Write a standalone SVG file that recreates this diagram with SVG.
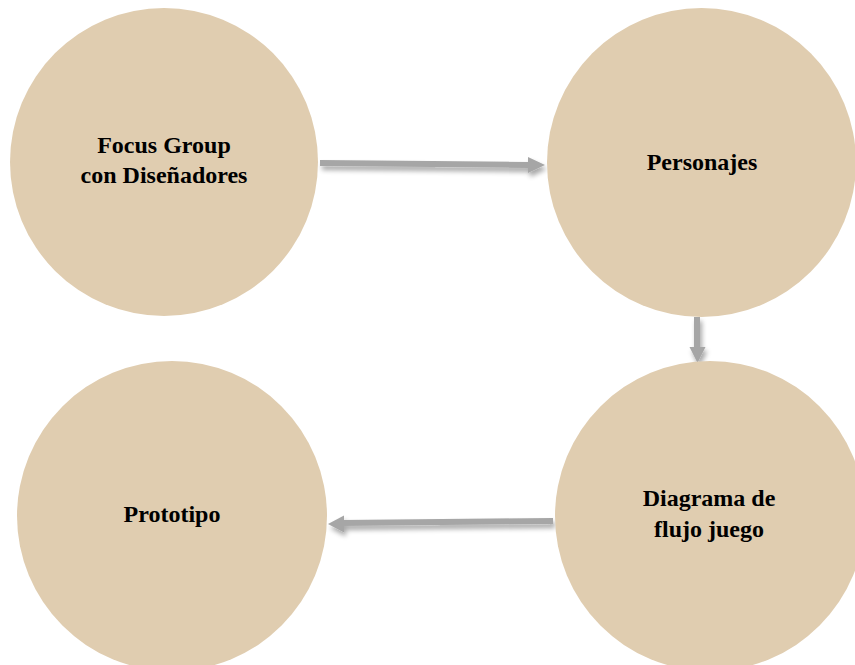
<svg xmlns="http://www.w3.org/2000/svg" width="855" height="665" viewBox="0 0 855 665">
  <defs>
    <style>
      .node circle { fill: #e0cdb0; }
      .label { font-family: "Liberation Serif", "Times New Roman", serif; font-weight: bold; font-size: 24px; fill: #000; text-anchor: middle; }
      .shaft { stroke: #a6a6a6; stroke-width: 6; fill: none; }
      .head { fill: #a6a6a6; }
    </style>
    <filter id="shadow" x="-10%" y="-50%" width="120%" height="200%">
      <feGaussianBlur in="SourceAlpha" stdDeviation="2.5"/>
      <feOffset dx="2" dy="4" result="off"/>
      <feComponentTransfer><feFuncA type="linear" slope="0.35"/></feComponentTransfer>
      <feMerge><feMergeNode/><feMergeNode in="SourceGraphic"/></feMerge>
    </filter>
  </defs>
  <rect width="855" height="665" fill="#ffffff"/>

  <g id="connectors" filter="url(#shadow)">
    <!-- Focus Group -> Personajes -->
    <g id="edge-focus-personajes">
      <line class="shaft" x1="320" y1="163" x2="530" y2="165"/>
      <polygon class="head" points="528,157 545,165 528,173"/>
    </g>
    <!-- Personajes -> Diagrama -->
    <g id="edge-personajes-diagrama">
      <line class="shaft" x1="697" y1="317" x2="697" y2="349"/>
      <polygon class="head" points="689.5,347 705.5,347 697.5,363"/>
    </g>
    <!-- Diagrama -> Prototipo -->
    <g id="edge-diagrama-prototipo">
      <line class="shaft" x1="553" y1="521" x2="341" y2="523"/>
      <polygon class="head" points="344,515.5 328,524 344,532.5"/>
    </g>
  </g>

  <g id="node-focus" class="node">
    <circle cx="164" cy="162" r="154"/>
    <text class="label" x="164" y="153">Focus Group</text>
    <text class="label" x="164" y="183">con Diseñadores</text>
  </g>

  <g id="node-personajes" class="node">
    <circle cx="701.5" cy="162.5" r="154.5"/>
    <text class="label" x="702" y="170">Personajes</text>
  </g>

  <g id="node-diagrama" class="node">
    <circle cx="710" cy="516" r="155"/>
    <text class="label" x="709" y="506">Diagrama de</text>
    <text class="label" x="709" y="537">flujo juego</text>
  </g>

  <g id="node-prototipo" class="node">
    <circle cx="172" cy="516" r="155"/>
    <text class="label" x="172" y="522">Prototipo</text>
  </g>
</svg>
